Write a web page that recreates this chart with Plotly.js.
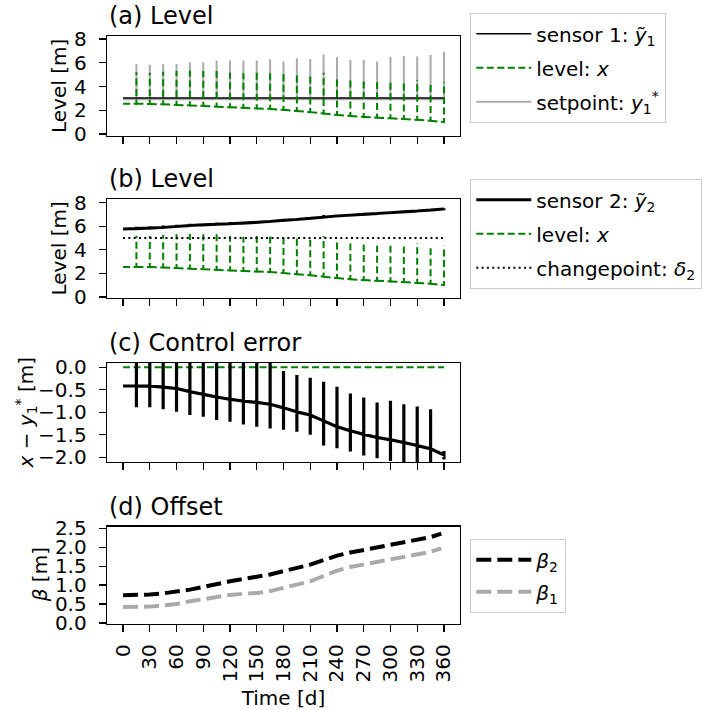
<!DOCTYPE html>
<html>
<head>
<meta charset="utf-8">
<script src="https://cdn.plot.ly/plotly-3.0.1.min.js"></script>
<style>html,body{margin:0;padding:0;background:#fff;}#chart{width:704px;height:710px;}</style>
</head>
<body>
<div id="chart"></div>
<script>
// ---- data ----
const days = [0,15,30,45,60,75,90,105,120,135,150,165,180,195,210,225,240,255,270,285,300,315,330,345,360];
const spikeDays = [15,30,45,60,75,90,105,120,135,150,165,180,195,210,225,240,255,270,285,300,315,330,345,360];
const xTicks = [0,30,60,90,120,150,180,210,240,270,300,330,360];

// (a)/(b) water level x
const levelBase = [2.55,2.55,2.53,2.50,2.45,2.40,2.36,2.30,2.25,2.20,2.15,2.11,2.03,1.93,1.84,1.72,1.60,1.51,1.43,1.37,1.32,1.26,1.19,1.12,1.00];
const levelPeak = [5.20,5.17,5.25,5.31,5.34,5.31,5.31,5.17,5.11,5.20,5.25,5.06,4.97,4.89,5.17,4.83,4.61,4.49,4.35,4.61,4.55,4.55,4.41,4.35];
// (a) sensor 1 and setpoint
const sensor1 = [3.03,3.03,3.03,3.03,3.03,3.03,3.03,3.03,3.03,3.03,3.03,3.03,3.03,3.03,3.03,3.03,3.03,3.03,3.03,3.03,3.03,3.03,3.03,3.03,3.03];
const setpointBase = [2.92,2.92,2.92,2.92,2.92,2.92,2.92,2.92,2.92,2.92,2.92,2.92,2.92,2.92,2.92,2.92,2.92,2.92,2.92,2.92,2.92,2.92,2.92,2.92,2.92];
const setpointPeak = [5.87,5.84,5.90,5.90,6.04,6.04,6.20,6.20,6.20,6.20,6.29,6.12,6.38,6.32,6.71,6.49,6.24,6.26,6.10,6.52,6.57,6.54,6.66,6.94];
// (b) sensor 2 and changepoint
const sensor2Base = [5.76,5.80,5.84,5.90,5.98,6.06,6.12,6.17,6.21,6.27,6.33,6.41,6.50,6.58,6.67,6.77,6.87,6.94,7.01,7.08,7.15,7.22,7.29,7.37,7.47];
const sensor2Peak = [5.95,6.00,6.06,6.12,6.22,6.24,6.32,6.36,6.37,6.43,6.48,6.55,6.62,6.72,6.96,6.93,6.98,7.05,7.11,7.18,7.25,7.32,7.40,7.52];
const changepointDays = [0,360];
const changepointLevel = [5.0,5.0];
// (c) control error x - y1*
const errorBase = [-0.415,-0.41,-0.415,-0.44,-0.47,-0.54,-0.60,-0.66,-0.71,-0.75,-0.78,-0.82,-0.90,-0.99,-1.06,-1.19,-1.32,-1.41,-1.49,-1.56,-1.61,-1.67,-1.74,-1.81,-1.95];
const errorTop = [0.3,0.3,0.3,0.3,0.3,0.3,0.3,0.3,0.3,0.3,0.25,-0.08,-0.17,-0.23,-0.32,-0.43,-0.58,-0.67,-0.78,-0.74,-0.82,-0.87,-0.93,-1.86];
const errorBottom = [-0.89,-0.89,-0.93,-0.99,-1.06,-1.10,-1.17,-1.21,-1.27,-1.32,-1.36,-1.39,-1.43,-1.50,-1.74,-1.80,-1.87,-1.96,-2.02,-2.08,-2.2,-2.2,-2.2,-2.05];
const zeroDays = [0,360];
const zeroLevel = [0,0];
// (d) offsets
const betaDays = [0,15,30,45,60,75,90,105,120,135,150,165,180,195,210,225,240,255,270,285,300,315,330,345,357];
const beta2 = [0.73,0.73,0.75,0.78,0.82,0.88,0.95,1.03,1.10,1.16,1.21,1.28,1.37,1.46,1.54,1.66,1.78,1.86,1.93,2.00,2.06,2.13,2.20,2.27,2.36];
const beta1 = [0.42,0.42,0.43,0.46,0.50,0.57,0.63,0.69,0.74,0.77,0.79,0.84,0.92,1.01,1.10,1.24,1.38,1.48,1.55,1.62,1.68,1.74,1.81,1.88,1.97];

// ---- build spiky series from the arrays ----
// returnStroke=false: the spike is drawn as one upward stroke (a gap hides the way back)
function withSpikes(base, peaks, returnStroke) {
  const xs = [], ys = [];
  days.forEach((d, i) => {
    xs.push(d); ys.push(base[i]);
    const k = spikeDays.indexOf(d);
    if (k >= 0) {
      peaks.forEach(p => { xs.push(d); ys.push(p[k]); });
      if (!returnStroke) { xs.push(d); ys.push(null); }
      xs.push(d); ys.push(base[i]);
    }
  });
  return {x: xs, y: ys};
}

const lvl = withSpikes(levelBase, [levelPeak], false);
const spt = withSpikes(setpointBase, [setpointPeak], true);
const s2 = withSpikes(sensor2Base, [sensor2Peak], true);
const err = withSpikes(errorBase, [errorTop, errorBottom], true);

const FONT = 'DejaVu Sans, Liberation Sans, sans-serif';
const GREEN = '#008000';
const GREY = '#aaaaaa';
const GDASH = '7px,3.5px';

const traces = [
  // (a)
  {x: spt.x, y: spt.y, xaxis: 'x', yaxis: 'y', mode: 'lines', name: 'setpoint: <i>y</i><sub>1</sub><sup>*</sup>',
   line: {color: GREY, width: 2}, legend: 'legend', legendrank: 3, legendgroup: 'a3'},
  {x: days, y: sensor1, xaxis: 'x', yaxis: 'y', mode: 'lines', name: 'sensor 1: <i>ỹ</i><sub>1</sub>',
   line: {color: '#000', width: 1.5}, legend: 'legend', legendrank: 1, legendgroup: 'a1'},
  {x: lvl.x, y: lvl.y, xaxis: 'x', yaxis: 'y', mode: 'lines', name: 'level: <i>x</i>', connectgaps: false,
   line: {color: GREEN, width: 2, dash: GDASH}, legend: 'legend', legendrank: 2, legendgroup: 'a2'},
  // (b)
  {x: s2.x, y: s2.y, xaxis: 'x2', yaxis: 'y2', mode: 'lines', name: 'sensor 2: <i>ỹ</i><sub>2</sub>',
   line: {color: '#000', width: 3}, legend: 'legend2', legendrank: 1, legendgroup: 'b1'},
  {x: lvl.x, y: lvl.y, xaxis: 'x2', yaxis: 'y2', mode: 'lines', name: 'level: <i>x</i>', connectgaps: false,
   line: {color: GREEN, width: 2, dash: GDASH}, legend: 'legend2', legendrank: 2, legendgroup: 'b2'},
  {x: changepointDays, y: changepointLevel, xaxis: 'x2', yaxis: 'y2', mode: 'lines', name: 'changepoint: <i>δ</i><sub>2</sub>',
   line: {color: '#000', width: 2, dash: '2px,3.3px'}, legend: 'legend2', legendrank: 3, legendgroup: 'b3'},
  // (c)
  {x: zeroDays, y: zeroLevel, xaxis: 'x3', yaxis: 'y3', mode: 'lines', showlegend: false,
   line: {color: GREEN, width: 2, dash: GDASH}},
  {x: err.x, y: err.y, xaxis: 'x3', yaxis: 'y3', mode: 'lines', showlegend: false,
   line: {color: '#000', width: 3.2}},
  // (d)
  {x: betaDays, y: beta2, xaxis: 'x4', yaxis: 'y4', mode: 'lines', name: '<i>β</i><sub>2</sub>',
   line: {color: '#000', width: 4, dash: '15px,6px'}, legend: 'legend3', legendrank: 1, legendgroup: 'd1'},
  {x: betaDays, y: beta1, xaxis: 'x4', yaxis: 'y4', mode: 'lines', name: '<i>β</i><sub>1</sub>',
   line: {color: GREY, width: 4, dash: '15px,6px'}, legend: 'legend3', legendrank: 2, legendgroup: 'd2'}
];

function xax(anchor, labels) {
  return {
    anchor: anchor, range: [-18, 378], tickmode: 'array', tickvals: xTicks, ticktext: xTicks.map(String),
    showticklabels: labels, tickangle: -90, ticks: 'outside', ticklen: 7, tickwidth: 1.3, tickcolor: '#000',
    ticklabelstandoff: 4,
    showline: true, mirror: true, linecolor: '#000', linewidth: 1.3, showgrid: false, zeroline: false,
    tickfont: {family: FONT, size: 20, color: '#000'}
  };
}
function yax(anchor, domain, range, tickvals, fmt) {
  return {
    anchor: anchor, domain: domain, range: range, tickmode: 'array', tickvals: tickvals,
    tickformat: fmt, ticks: 'outside', ticklen: 7, tickwidth: 1.3, tickcolor: '#000',
    ticklabelstandoff: 8,
    showline: true, mirror: true, linecolor: '#000', linewidth: 1.3, showgrid: false, zeroline: false,
    tickfont: {family: FONT, size: 20, color: '#000'}
  };
}

const legendBase = {
  xref: 'container', yref: 'container', xanchor: 'left', yanchor: 'top',
  bgcolor: '#fff', bordercolor: '#cccccc', borderwidth: 1.3,
  font: {family: FONT, size: 20, color: '#000'}, itemwidth: 55,
  traceorder: 'grouped', tracegroupgap: 5
};

// panel titles (left-aligned above each axes)
const panelTitles = [
  ['x domain','y domain','(a) Level'],
  ['x2 domain','y2 domain','(b) Level'],
  ['x3 domain','y3 domain','(c) Control error'],
  ['x4 domain','y4 domain','(d) Offset']
].map(a => ({xref: a[0], yref: a[1], x: 0, y: 1, xanchor: 'left', yanchor: 'bottom', yshift: 4,
             text: a[2], showarrow: false, font: {family: FONT, size: 24, color: '#000'}}));

// y-axis titles (rotated), placed left of the tick labels
const yTitles = [
  ['x domain','y domain','Level [m]', -48],
  ['x2 domain','y2 domain','Level [m]', -48],
  ['x3 domain','y3 domain','<i>x</i> − <i>y</i><sub>1</sub><sup>*</sup> [m]', -81],
  ['x4 domain','y4 domain','<i>β</i> [m]', -67]
].map(a => ({xref: a[0], yref: a[1], x: 0, y: 0.5, xanchor: 'center', yanchor: 'middle', xshift: a[3],
             textangle: -90, text: a[2], showarrow: false, font: {family: FONT, size: 20, color: '#000'}}));

const layout = {
  width: 704, height: 710,
  margin: {l: 107, r: 244, t: 36, b: 86},
  paper_bgcolor: '#fff', plot_bgcolor: '#fff',
  font: {family: FONT, color: '#000'},
  xaxis: xax('y', false),
  xaxis2: xax('y2', false),
  xaxis3: xax('y3', false),
  xaxis4: Object.assign(xax('y4', true), {title: {text: 'Time [d]', font: {family: FONT, size: 20, color: '#000'}, standoff: 10}}),
  yaxis: yax('x', [0.830, 1.0], [-0.17, 8.26], [0,2,4,6,8], 'd'),
  yaxis2: yax('x2', [0.5544, 0.7228], [-0.09, 8.31], [0,2,4,6,8], 'd'),
  yaxis3: yax('x3', [0.2755, 0.4439], [-2.105, 0.097], [-2,-1.5,-1,-0.5,0], '.1f'),
  yaxis4: yax('x4', [0, 0.1658], [-0.03, 2.55], [0,0.5,1,1.5,2,2.5], '.1f'),
  legend: Object.assign({}, legendBase, {x: 470/704, y: 1 - 13/710}),
  legend2: Object.assign({}, legendBase, {x: 470/704, y: 1 - 179/710}),
  legend3: Object.assign({}, legendBase, {x: 470/704, y: 1 - 539/710, tracegroupgap: 3}),
  annotations: panelTitles.concat(yTitles)
};

Plotly.newPlot('chart', traces, layout, {staticPlot: true, displayModeBar: false});
</script>
</body>
</html>
